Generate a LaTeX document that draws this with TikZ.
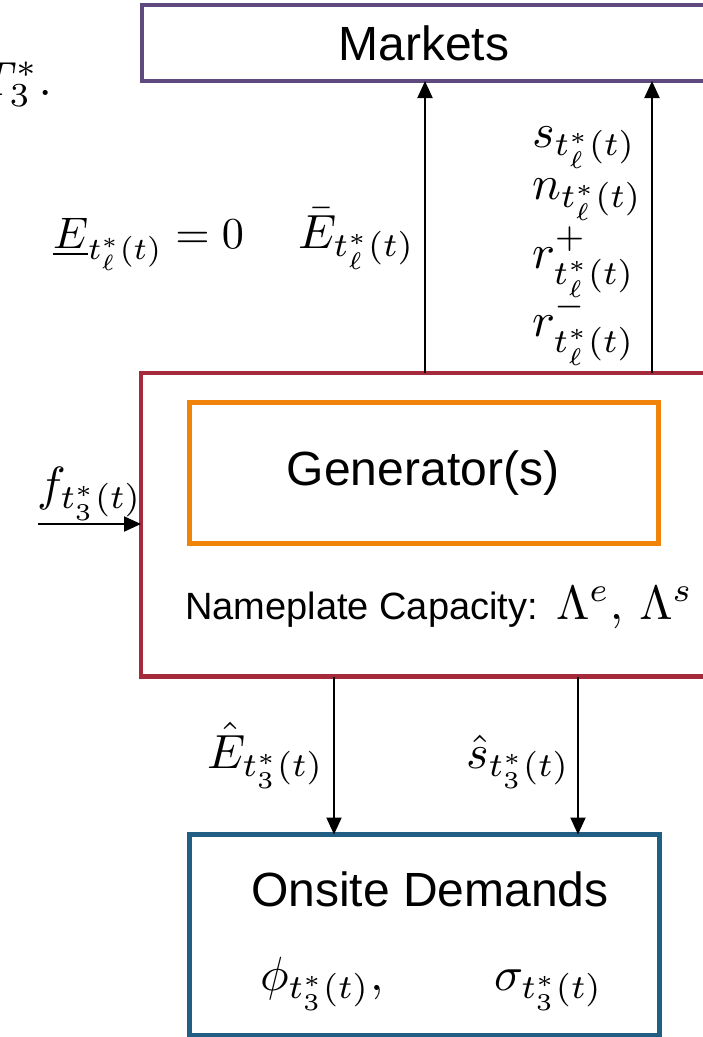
\documentclass[tikz,border=0pt]{standalone}
\usepackage[no-math]{fontspec}
\newfontfamily\arialf{Liberation Sans}
\usetikzlibrary{arrows.meta}
\definecolor{mkcol}{RGB}{94,74,126}
\definecolor{gencol}{RGB}{164,42,60}
\definecolor{orcol}{RGB}{240,131,10}
\definecolor{odcol}{RGB}{33,94,132}
\begin{document}
\begin{tikzpicture}[x=1pt,y=-1pt,
  box/.style={draw,line width=4.5pt,anchor=north west,inner sep=0pt,outer sep=0pt},
  arr/.style={line width=2pt,-{Triangle[length=17pt,width=15pt]}},
  mth/.style={scale=4.8,inner sep=0pt,outer sep=0pt},
  txt/.style={font=\arialf\fontsize{48}{57}\selectfont,inner sep=0pt}]
\useasboundingbox (0,0) rectangle (703,1037);
% boxes
\node[box,draw=mkcol,minimum width=580pt,minimum height=76pt] (mk) at (142,5) {};
\node[box,draw=gencol,minimum width=580pt,minimum height=303.5pt] (gen) at (141,373) {};
\node[box,draw=orcol,line width=5pt,minimum width=469pt,minimum height=141pt] (gi) at (189,402.5) {};
\node[box,draw=odcol,line width=5pt,minimum width=469.5pt,minimum height=200.5pt] (od) at (189.5,834.5) {};
% texts
\node[txt] (mkt) at (424,43) {Markets};
\node[txt] (gt) at (423,473) {Generator(s)};
\node[txt] (odt) at (430,889) {Onsite Demands};
\node[font=\arialf\fontsize{38}{46}\selectfont,inner sep=0pt,anchor=base west] (np) at (185,619) {Nameplate Capacity:};
\node[mth,anchor=base west] (lam) at (556,619) {$\Lambda^e,\,\Lambda^s$};
% arrows
\coordinate (a1) at (425,0);
\coordinate (a2) at (652,0);
\coordinate (d1) at (334,0);
\coordinate (d2) at (578,0);
\coordinate (fin) at (38,524);
\draw[arr] (a1 |- gen.north) -- (a1 |- mk.south);
\draw[arr] (a2 |- gen.north) -- (a2 |- mk.south);
\draw[arr] (d1 |- gen.south) -- (d1 |- od.north);
\draw[arr] (d2 |- gen.south) -- (d2 |- od.north);
\draw[arr] (fin) -- (fin -| gen.west);
% math labels
\node[mth,anchor=base east] (tcut) at (52,95) {$T_3^*.$};
\node[mth,scale=0.92,anchor=base west] (elow) at (53,248) {$\underline{E}_{t_\ell^*(t)}=0$};
\node[mth,anchor=base east] (ebar) at (415,248) {$\bar{E}_{t_\ell^*(t)}$};
\node[mth,anchor=base west] (ls) at (532,147) {$s_{t_\ell^*(t)}$};
\node[mth,anchor=base west] (ln) at (532,199) {$n_{t_\ell^*(t)}$};
\node[mth,anchor=base west] (lrp) at (532,268) {$r^+_{t_\ell^*(t)}$};
\node[mth,anchor=base west] (lrm) at (532,336) {$r^-_{t_\ell^*(t)}$};
\node[mth,anchor=base west] (lf) at (37,500) {$f_{t_3^*(t)}$};
\node[mth,anchor=base east] (ehat) at (324,768) {$\hat{E}_{t_3^*(t)}$};
\node[mth,anchor=base east] (shat) at (570,768) {$\hat{s}_{t_3^*(t)}$};
\node[mth,anchor=base west] (phi) at (260,990) {$\phi_{t_3^*(t)},$};
\node[mth,anchor=base west] (sig) at (494,990) {$\sigma_{t_3^*(t)}$};
\end{tikzpicture}
\end{document}
